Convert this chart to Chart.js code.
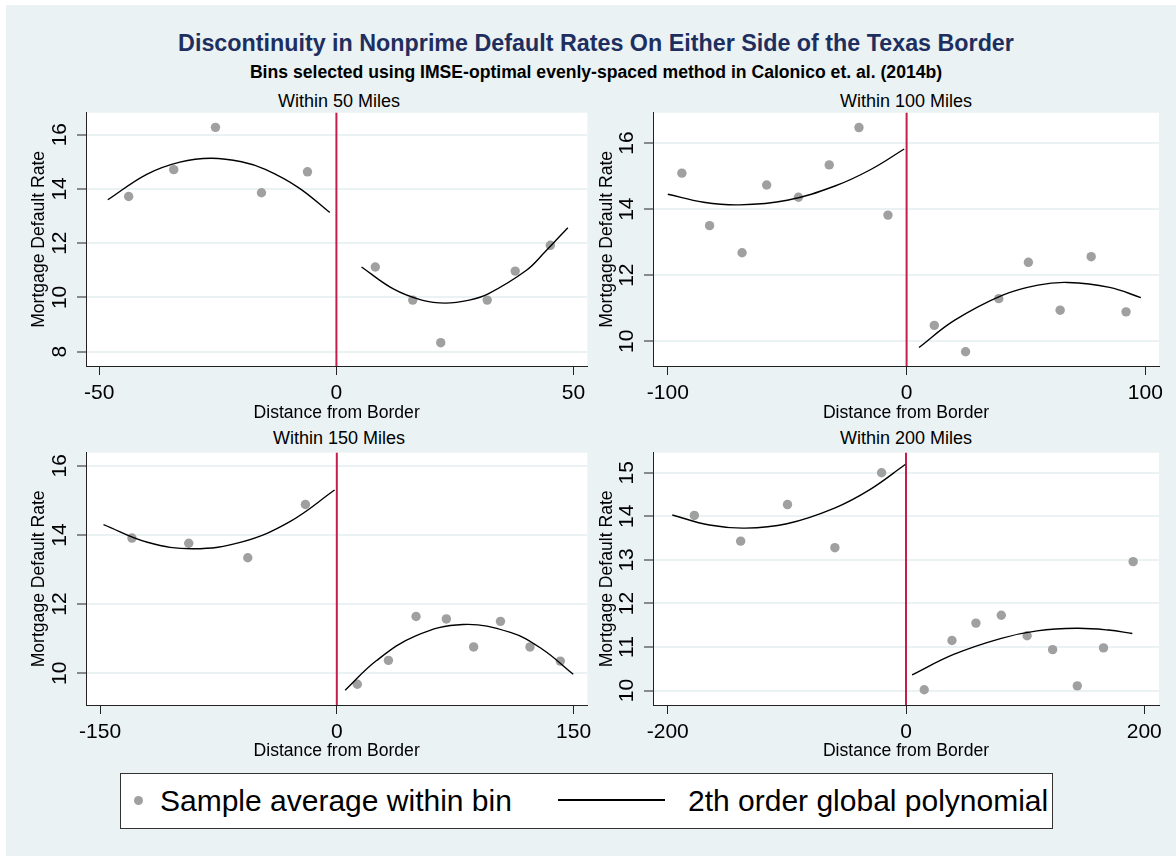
<!DOCTYPE html>
<html lang="en">
<head>
    <meta charset="UTF-8">
    <title>Discontinuity in Nonprime Default Rates</title>
    <script src="https://cdn.jsdelivr.net/npm/chart.js"></script>
    <style>
        html, body {
            margin: 0;
            padding: 0;
            background: #ffffff;
        }
        body {
            width: 1176px;
            height: 856px;
            position: relative;
            overflow: hidden;
            font-family: "Liberation Sans", Arial, sans-serif;
        }
        #frame {
            position: absolute;
            left: 6px;
            top: 5px;
            right: 0;
            bottom: 0;
            background: #EAF2F3;
        }
        .abs {
            position: absolute;
            white-space: nowrap;
        }
        #title {
            left: 596px;
            top: 30px;
            transform: translateX(-50%);
            font-size: 23.3px;
            line-height: 26px;
            font-weight: bold;
            color: #1E2F5F;
        }
        #subtitle {
            left: 596px;
            top: 62px;
            transform: translateX(-50%);
            font-size: 17.6px;
            line-height: 20px;
            font-weight: bold;
            color: #000;
        }
        .ptitle {
            transform: translateX(-50%);
            font-size: 18px;
            line-height: 20px;
            color: #000;
        }
        canvas {
            position: absolute;
        }
        #legend {
            position: absolute;
            left: 120px;
            top: 773px;
            width: 931px;
            height: 54px;
            background: #fff;
            border: 1px solid #333;
        }
        #legend .lab {
            position: absolute;
            top: 10px;
            font-size: 30px;
            line-height: 34px;
            color: #000;
            white-space: nowrap;
        }
        #legend .dot {
            position: absolute;
            left: 13px;
            top: 22px;
            width: 9px;
            height: 9px;
            border-radius: 50%;
            background: #A0A0A0;
        }
        #legend .seg {
            position: absolute;
            left: 437px;
            top: 25px;
            width: 107px;
            height: 2px;
            background: #000;
        }
    </style>
</head>
<body>
    <div id="frame"></div>
    <div id="title" class="abs">Discontinuity in Nonprime Default Rates On Either Side of the Texas Border</div>
    <div id="subtitle" class="abs">Bins selected using IMSE-optimal evenly-spaced method in Calonico et. al. (2014b)</div>

    <div class="abs ptitle" style="left:339px; top:91px;">Within 50 Miles</div>
    <div class="abs ptitle" style="left:906px; top:91px;">Within 100 Miles</div>
    <div class="abs ptitle" style="left:339px; top:428px;">Within 150 Miles</div>
    <div class="abs ptitle" style="left:906px; top:428px;">Within 200 Miles</div>

    <canvas id="p50" width="592" height="318" style="left:0px; top:108px;"></canvas>
    <canvas id="p100" width="574" height="318" style="left:596px; top:108px;"></canvas>
    <canvas id="p150" width="592" height="316" style="left:0px; top:448px;"></canvas>
    <canvas id="p200" width="574" height="316" style="left:596px; top:448px;"></canvas>

    <div id="legend">
        <div class="dot"></div>
        <div class="lab" style="left:39px;">Sample average within bin</div>
        <div class="seg"></div>
        <div class="lab" style="left:567px;">2th order global polynomial</div>
    </div>

    <script>
        // border cutoff (miles)
        const cutoff = 0;

        // ---- Within 50 miles ----
        const bins50X = [-43.8, -34.3, -25.5, -15.8, -6.1, 8.2, 16.1, 22.0, 31.8, 37.7, 45.1];
        const bins50Y = [13.72, 14.71, 16.27, 13.86, 14.63, 11.12, 9.90, 8.33, 9.90, 10.97, 11.92];
        const fit50LeftX = [-48.2, -40, -33, -26.4, -20, -15, -8, -1.4];
        const fit50LeftY = [13.60, 14.54, 14.99, 15.13, 15.00, 14.72, 14.05, 13.13];
        const fit50RightX = [5.3, 12, 18, 23, 28, 32, 40, 44, 48.8];
        const fit50RightY = [11.12, 10.31, 9.90, 9.79, 9.90, 10.13, 10.99, 11.68, 12.57];
        const ticks50X = [-50, 0, 50];
        const ticks50Y = [8, 10, 12, 14, 16];

        // ---- Within 100 miles ----
        const bins100X = [-94.1, -82.5, -68.9, -58.6, -45.3, -32.4, -19.95, -7.8, 11.6, 24.7, 38.6, 51.0, 64.3, 77.3, 91.9];
        const bins100Y = [15.09, 13.50, 12.68, 14.73, 14.36, 15.34, 16.47, 13.82, 10.48, 9.68, 11.29, 12.39, 10.94, 12.56, 10.89];
        const fit100LeftX = [-100, -85, -70, -50, -30, -15, -1];
        const fit100LeftY = [14.45, 14.21, 14.13, 14.27, 14.70, 15.20, 15.82];
        const fit100RightX = [5.2, 20, 40, 55, 67.5, 85, 98.1];
        const fit100RightY = [9.81, 10.63, 11.39, 11.70, 11.78, 11.63, 11.32];
        const ticks100X = [-100, 0, 100];
        const ticks100Y = [10, 12, 14, 16];

        // ---- Within 150 miles ----
        const bins150X = [-129.8, -93.8, -56.4, -19.9, 13.0, 32.7, 50.2, 69.4, 86.7, 103.7, 122.4, 141.6];
        const bins150Y = [13.91, 13.76, 13.34, 14.88, 9.68, 10.37, 11.64, 11.57, 10.76, 11.50, 10.76, 10.35];
        const fit150LeftX = [-147.8, -120, -91, -60, -30, -1.4];
        const fit150LeftY = [14.30, 13.79, 13.60, 13.80, 14.38, 15.30];
        const fit150RightX = [5.3, 25, 50, 80, 110, 130, 149.8];
        const fit150RightY = [9.51, 10.36, 11.08, 11.41, 11.18, 10.70, 9.97];
        const ticks150X = [-150, 0, 150];
        const ticks150Y = [10, 12, 14, 16];

        // ---- Within 200 miles ----
        const bins200X = [-177.7, -138.8, -99.5, -59.7, -20.5, 15.3, 38.6, 58.7, 80.0, 101.7, 123.1, 143.8, 165.8, 190.7];
        const bins200Y = [14.02, 13.43, 14.27, 13.28, 15.00, 10.02, 11.15, 11.55, 11.73, 11.26, 10.94, 10.11, 10.98, 12.96];
        const fit200LeftX = [-196.2, -165, -135, -100, -60, -30, -0.7];
        const fit200LeftY = [14.03, 13.80, 13.73, 13.83, 14.19, 14.62, 15.19];
        const fit200RightX = [5.1, 40, 80, 110, 143, 170, 190];
        const fit200RightY = [10.36, 10.83, 11.20, 11.37, 11.43, 11.39, 11.31];
        const ticks200X = [-200, 0, 200];
        const ticks200Y = [10, 11, 12, 13, 14, 15];

        Chart.defaults.font.family = '"Liberation Sans", Arial, sans-serif';
        Chart.defaults.color = '#000';

        const BG = '#EAF2F3';
        const AXIS = '#222';

        const zip = (xs, ys) => xs.map((x, i) => ({ x: x, y: ys[i] }));

        // white plot region + red line at the border
        const panelDecor = {
            id: 'panelDecor',
            beforeDraw(chart) {
                const a = chart.chartArea;
                const ctx = chart.ctx;
                ctx.save();
                ctx.fillStyle = '#fff';
                ctx.fillRect(a.left, a.top, a.right - a.left, a.bottom - a.top);
                ctx.restore();
            },
            beforeDatasetsDraw(chart) {
                const a = chart.chartArea;
                const ctx = chart.ctx;
                const x = chart.scales.x.getPixelForValue(cutoff);
                ctx.save();
                ctx.strokeStyle = '#C41E4A';
                ctx.lineWidth = 2;
                ctx.beginPath();
                ctx.moveTo(x, a.top);
                ctx.lineTo(x, a.bottom);
                ctx.stroke();
                ctx.restore();
            }
        };

        function makePanel(id, p) {
            const fitStyle = {
                showLine: true,
                borderColor: '#000',
                borderWidth: 1.4,
                pointRadius: 0,
                tension: 0.4,
                fill: false
            };
            return new Chart(document.getElementById(id), {
                type: 'scatter',
                data: {
                    datasets: [
                        Object.assign({ label: 'fit left', data: zip(p.leftX, p.leftY) }, fitStyle),
                        Object.assign({ label: 'fit right', data: zip(p.rightX, p.rightY) }, fitStyle),
                        {
                            label: 'Sample average within bin',
                            data: zip(p.binX, p.binY),
                            pointRadius: 4.7,
                            pointBackgroundColor: '#A0A0A0',
                            pointBorderWidth: 0,
                            showLine: false
                        }
                    ]
                },
                options: {
                    responsive: false,
                    animation: false,
                    layout: { padding: p.pad },
                    plugins: {
                        legend: { display: false },
                        tooltip: { enabled: false },
                        title: { display: false }
                    },
                    scales: {
                        x: {
                            type: 'linear',
                            min: p.xMin,
                            max: p.xMax,
                            afterBuildTicks: s => { s.ticks = p.xTicks.map(v => ({ value: v })); },
                            afterFit: s => { s.height = p.xH; s.paddingLeft = 0; s.paddingRight = 0; },
                            ticks: { font: { size: 21 }, color: '#000', padding: 6, maxRotation: 0 },
                            grid: { drawOnChartArea: false, tickLength: 9, tickColor: AXIS, tickWidth: 1 },
                            border: { color: AXIS, width: 1 },
                            title: {
                                display: true,
                                text: 'Distance from Border',
                                font: { size: 17.6 },
                                color: '#000',
                                padding: 0
                            }
                        },
                        y: {
                            type: 'linear',
                            min: p.yMin,
                            max: p.yMax,
                            afterBuildTicks: s => { s.ticks = p.yTicks.map(v => ({ value: v })); },
                            afterFit: s => { s.width = p.yW; s.paddingTop = 0; s.paddingBottom = 0; },
                            ticks: { font: { size: 21 }, color: '#000', padding: 5, minRotation: 90, maxRotation: 90, crossAlign: 'center' },
                            grid: { color: BG, lineWidth: 2, tickLength: 9, tickColor: AXIS, tickWidth: 1 },
                            border: { color: AXIS, width: 1 },
                            title: {
                                display: true,
                                text: 'Mortgage Default Rate',
                                font: { size: 17.6 },
                                color: '#000',
                                padding: 0
                            }
                        }
                    }
                },
                plugins: [panelDecor]
            });
        }

        makePanel('p50', {
            binX: bins50X, binY: bins50Y,
            leftX: fit50LeftX, leftY: fit50LeftY, rightX: fit50RightX, rightY: fit50RightY,
            xTicks: ticks50X, yTicks: ticks50Y,
            xMin: -52.8, xMax: 52.9, yMin: 7.47, yMax: 16.81,
            yW: 57, xH: 58, pad: { left: 29, right: 0, top: 4, bottom: 2 }
        });
        makePanel('p100', {
            binX: bins100X, binY: bins100Y,
            leftX: fit100LeftX, leftY: fit100LeftY, rightX: fit100RightX, rightY: fit100RightY,
            xTicks: ticks100X, yTicks: ticks100Y,
            xMin: -106.2, xMax: 105.7, yMin: 9.25, yMax: 16.92,
            yW: 56, xH: 58, pad: { left: 1, right: 11, top: 4, bottom: 2 }
        });
        makePanel('p150', {
            binX: bins150X, binY: bins150Y,
            leftX: fit150LeftX, leftY: fit150LeftY, rightX: fit150RightX, rightY: fit150RightY,
            xTicks: ticks150X, yTicks: ticks150Y,
            xMin: -158.9, xMax: 158.7, yMin: 9.08, yMax: 16.38,
            yW: 57, xH: 57, pad: { left: 29, right: 0, top: 4, bottom: 2 }
        });
        makePanel('p200', {
            binX: bins200X, binY: bins200Y,
            leftX: fit200LeftX, leftY: fit200LeftY, rightX: fit200RightX, rightY: fit200RightY,
            xTicks: ticks200X, yTicks: ticks200Y,
            xMin: -212.4, xMax: 212.4, yMin: 9.67, yMax: 15.46,
            yW: 56, xH: 57, pad: { left: 1, right: 11, top: 4, bottom: 2 }
        });
    </script>
</body>
</html>
